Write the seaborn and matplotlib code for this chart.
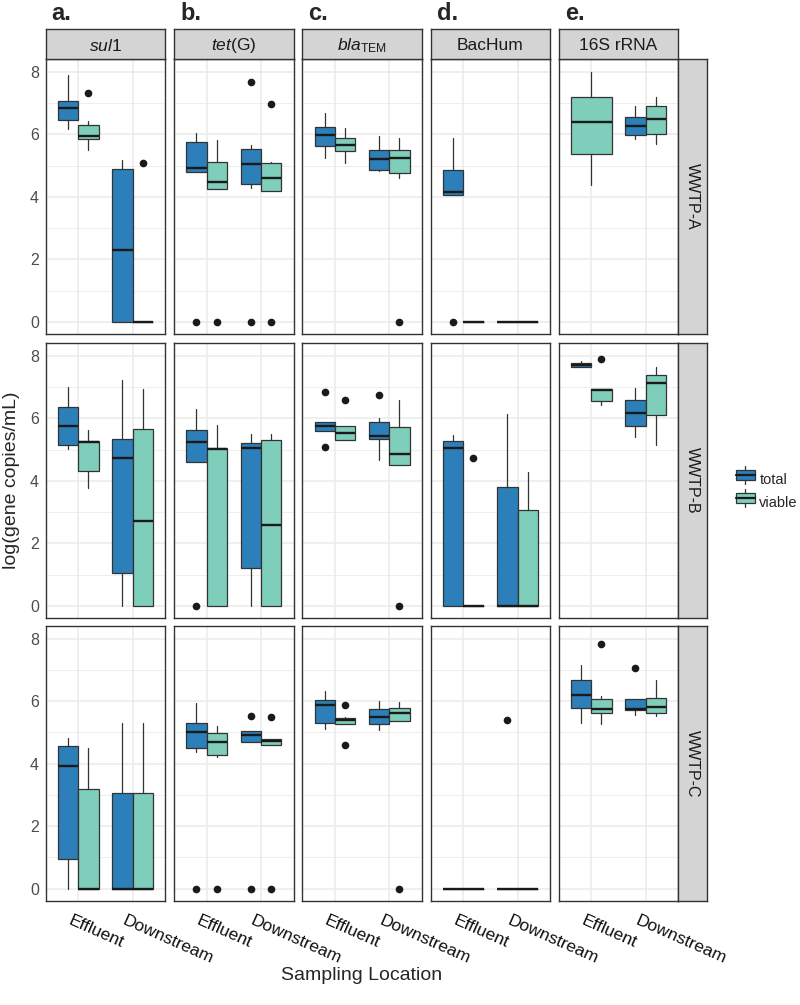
import matplotlib
matplotlib.use("Agg")
import matplotlib.pyplot as plt
import matplotlib.transforms as mtransforms
from matplotlib.patches import Rectangle, Patch
from matplotlib.lines import Line2D
from matplotlib.legend_handler import HandlerBase
import seaborn as sns

sns.set_theme(style="whitegrid")
plt.rcParams["font.family"] = ["Liberation Sans", "DejaVu Sans"]
plt.rcParams["mathtext.fontset"] = "custom"
plt.rcParams["mathtext.rm"] = "Liberation Sans"
plt.rcParams["mathtext.it"] = "Liberation Sans:italic"

genes = [r"$\it{sul}$1", r"$\it{tet}$(G)", r"$\it{bla}_{\rm TEM}$", "BacHum", "16S rRNA"]
tags = ["a.", "b.", "c.", "d.", "e."]
sites = ["WWTP-A", "WWTP-B", "WWTP-C"]
locations = ["Effluent", "Downstream"]
groups = ["total", "viable"]
colors = {"total": "#2c7fb8", "viable": "#7fcdbb"}

# box stats (whislo, q1, median, q3, whishi), order per site:
# Effluent-total, Effluent-viable, Downstream-total, Downstream-viable
sul1_box = [
    (6.17, 6.47, 6.83, 7.05, 7.91), (5.50, 5.85, 5.96, 6.30, 6.41), (0, 0, 2.29, 4.89, 5.19), (0, 0, 0, 0, 0),
    (5.02, 5.14, 5.74, 6.36, 6.99), (3.76, 4.32, 5.25, 5.28, 5.63), (0, 1.04, 4.74, 5.33, 7.23), (0, 0, 2.72, 5.65, 6.95),
    (0, 0.93, 3.93, 4.57, 4.83), (0, 0, 0, 3.19, 4.51), (0, 0, 0, 3.05, 5.29), (0, 0, 0, 3.05, 5.31),
]
sul1_out = [[], [7.33], [], [5.08], [], [], [], [], [], [], [], []]

tetG_box = [
    (4.78, 4.78, 4.91, 5.75, 6.03), (4.24, 4.24, 4.48, 5.10, 5.83), (4.27, 4.40, 5.06, 5.53, 5.66), (4.17, 4.17, 4.59, 5.07, 5.10),
    (4.61, 4.61, 5.24, 5.61, 6.30), (0, 0, 5.01, 5.04, 5.77), (0, 1.22, 5.06, 5.20, 5.51), (0, 0, 2.59, 5.29, 5.51),
    (4.38, 4.49, 5.00, 5.31, 5.93), (4.22, 4.28, 4.70, 4.99, 5.21), (4.70, 4.70, 4.92, 5.03, 5.03), (4.60, 4.60, 4.73, 4.78, 4.78),
]
tetG_out = [[0], [0], [7.67, 0], [6.98, 0], [0], [], [], [], [0], [0], [5.53, 0], [5.49, 0]]

bla_box = [
    (5.24, 5.62, 5.98, 6.23, 6.68), (5.07, 5.48, 5.66, 5.89, 6.20), (4.81, 4.86, 5.21, 5.51, 5.94), (4.60, 4.75, 5.23, 5.51, 5.87),
    (5.58, 5.58, 5.76, 5.87, 5.87), (5.29, 5.29, 5.52, 5.74, 5.74), (4.65, 5.33, 5.42, 5.87, 6.00), (4.50, 4.50, 4.87, 5.72, 6.58),
    (5.10, 5.31, 5.86, 6.03, 6.33), (5.28, 5.28, 5.40, 5.45, 5.50), (5.06, 5.27, 5.49, 5.74, 6.01), (5.35, 5.35, 5.61, 5.78, 5.97),
]
bla_out = [[], [], [], [0], [6.83, 5.08], [6.58], [6.75], [0], [], [5.88, 4.60], [], [0]]

bachum_box = [
    (4.06, 4.06, 4.16, 4.87, 5.87), (0, 0, 0, 0, 0), (0, 0, 0, 0, 0), (0, 0, 0, 0, 0),
    (0, 0, 5.06, 5.26, 5.45), (0, 0, 0, 0, 0), (0, 0, 0, 3.79, 6.13), (0, 0, 0, 3.07, 4.29),
    (0, 0, 0, 0, 0), (0, 0, 0, 0, 0), (0, 0, 0, 0, 0), (0, 0, 0, 0, 0),
]
bachum_out = [[0], [], [], [], [], [4.72], [], [], [], [], [5.38], []]

rrna_box = [
    None, (4.38, 5.36, 6.38, 7.18, 8.00), (5.85, 5.98, 6.25, 6.54, 6.90), (5.68, 6.00, 6.50, 6.90, 7.19),
    (7.64, 7.64, 7.70, 7.76, 7.82), (6.42, 6.54, 6.89, 6.94, 6.94), (5.40, 5.75, 6.17, 6.57, 6.97), (5.13, 6.11, 7.13, 7.37, 7.63),
    (5.29, 5.77, 6.19, 6.67, 7.14), (5.26, 5.63, 5.74, 6.05, 6.17), (5.56, 5.70, 5.74, 6.05, 6.05), (5.52, 5.63, 5.82, 6.10, 6.68),
]
rrna_out = [[], [], [], [], [], [7.90], [], [], [], [7.82], [7.06], []]

all_box = [sul1_box, tetG_box, bla_box, bachum_box, rrna_box]
all_out = [sul1_out, tetG_out, bla_out, bachum_out, rrna_out]

W, H = 800, 1005
fig = plt.figure(figsize=(W / 100, H / 100), dpi=100)

lefts = [45.7, 174.0, 302.3, 430.7, 558.7]
tops = [59.3, 343.3, 626.0]
pw, ph = 119.5, 275.0
edge = "#333333"
strip_fc = "#d4d4d4"


def px_axes(x, y, w, h):
    return fig.add_axes([x / W, 1 - (y + h) / H, w / W, h / H])


for r, site in enumerate(sites):
    for c, gene in enumerate(genes):
        ax = px_axes(lefts[c], tops[r], pw, ph)
        ax.set_facecolor("white")
        ax.set_axisbelow(True)
        boxes = all_box[c][r * 4:(r + 1) * 4]
        outs = all_out[c][r * 4:(r + 1) * 4]
        for k, st in enumerate(boxes):
            if st is None:
                continue
            li, gi = divmod(k, 2)
            partner = boxes[li * 2 + (1 - gi)]
            if partner is None:
                pos, wd = li + 1, 0.75
            else:
                pos, wd = li + 1 + (-0.1875 if gi == 0 else 0.1875), 0.375
            stats = dict(whislo=st[0], q1=st[1], med=st[2], q3=st[3], whishi=st[4], fliers=outs[k])
            ax.bxp([stats], positions=[pos], widths=[wd], patch_artist=True, showcaps=False,
                   manage_ticks=False,
                   boxprops=dict(facecolor=colors[groups[gi]], edgecolor=edge, linewidth=0.9),
                   medianprops=dict(color="#1a1a1a", linewidth=1.7, solid_capstyle="butt"),
                   whiskerprops=dict(color=edge, linewidth=0.9),
                   flierprops=dict(marker="o", markerfacecolor="#1a1a1a", markeredgecolor="#1a1a1a",
                                   markersize=4.5))
        ax.set_xlim(0.4, 2.6)
        ax.set_ylim(-0.4, 8.4)
        ax.set_xticks([1, 2])
        ax.set_yticks([0, 2, 4, 6, 8])
        ax.set_yticks([1, 3, 5, 7], minor=True)
        ax.grid(which="major", color="#ebebeb", linewidth=1.1)
        ax.grid(which="minor", axis="y", color="#ebebeb", linewidth=0.6)
        for sp in ax.spines.values():
            sp.set_color(edge)
            sp.set_linewidth(1.0)
        ax.tick_params(which="minor", length=0)
        if c == 0:
            ax.tick_params(axis="y", which="major", length=3, width=0.8, color=edge,
                           labelsize=11.5, labelcolor="#4d4d4d", pad=2)
        else:
            ax.tick_params(axis="y", which="major", length=0, labelleft=False)
        if r == 2:
            ax.tick_params(axis="x", which="major", length=3, width=0.8, color=edge, pad=6)
            ax.set_xticklabels(locations, rotation=-24, ha="left", va="top",
                               rotation_mode="anchor", fontsize=12.5, color="#111111")
            off = mtransforms.ScaledTranslation(-6 / 100, 0, fig.dpi_scale_trans)
            for lab in ax.get_xticklabels():
                lab.set_transform(lab.get_transform() + off)
        else:
            ax.tick_params(axis="x", which="major", length=0, labelbottom=False)

        # right strip
        if c == 4:
            sa = px_axes(678.0, tops[r], 29.0, ph)
            sa.set_facecolor(strip_fc)
            sa.set_xticks([])
            sa.set_yticks([])
            for sp in sa.spines.values():
                sp.set_color(edge)
                sp.set_linewidth(1.0)
            sa.text(0.5, 0.5, site, rotation=-90, ha="center", va="center",
                    fontsize=11.5, color="#1a1a1a", transform=sa.transAxes)

# top strips and panel tags
for c, gene in enumerate(genes):
    sa = px_axes(lefts[c], 29.3, pw, 30.0)
    sa.set_facecolor(strip_fc)
    sa.set_xticks([])
    sa.set_yticks([])
    for sp in sa.spines.values():
        sp.set_color(edge)
        sp.set_linewidth(1.0)
    sa.text(0.5, 0.45, gene, ha="center", va="center", fontsize=12.5, color="#1a1a1a",
            transform=sa.transAxes)
    fig.text((lefts[c] + 6) / W, 1 - 19.5 / H, tags[c], fontsize=17, fontweight="bold",
             ha="left", va="baseline")

fig.text(12 / W, 1 - 480 / H, "log(gene copies/mL)", rotation=90, ha="center", va="center",
         fontsize=14)
fig.text(362 / W, 1 - 975 / H, "Sampling Location", ha="center", va="center", fontsize=14)


class BoxKey(HandlerBase):
    def create_artists(self, legend, orig, x0, y0, width, height, fontsize, trans):
        cx = x0 + width / 2
        b0, b1 = y0 + height * 0.12, y0 + height * 0.88
        wl = Line2D([cx, cx], [y0 - height * 0.15, b0], color=edge, lw=0.9, transform=trans)
        wh = Line2D([cx, cx], [b1, y0 + height * 1.15], color=edge, lw=0.9, transform=trans)
        rect = Rectangle((x0, b0), width, b1 - b0, facecolor=orig.get_facecolor(),
                         edgecolor=edge, lw=0.9, transform=trans)
        med = Line2D([x0, x0 + width], [y0 + height / 2] * 2, color="#1a1a1a", lw=1.6,
                     transform=trans)
        return [wl, wh, rect, med]


handles = [Patch(facecolor=colors[g]) for g in groups]
fig.legend(handles, groups, handler_map={Patch: BoxKey()}, loc="center left",
           bbox_to_anchor=(736 / W, 1 - 491 / H), frameon=False, fontsize=10.5,
           borderpad=0, borderaxespad=0,
           handlelength=1.3, handleheight=1.1, handletextpad=0.3, labelspacing=0.55)

fig.savefig("out.png", dpi=100)
